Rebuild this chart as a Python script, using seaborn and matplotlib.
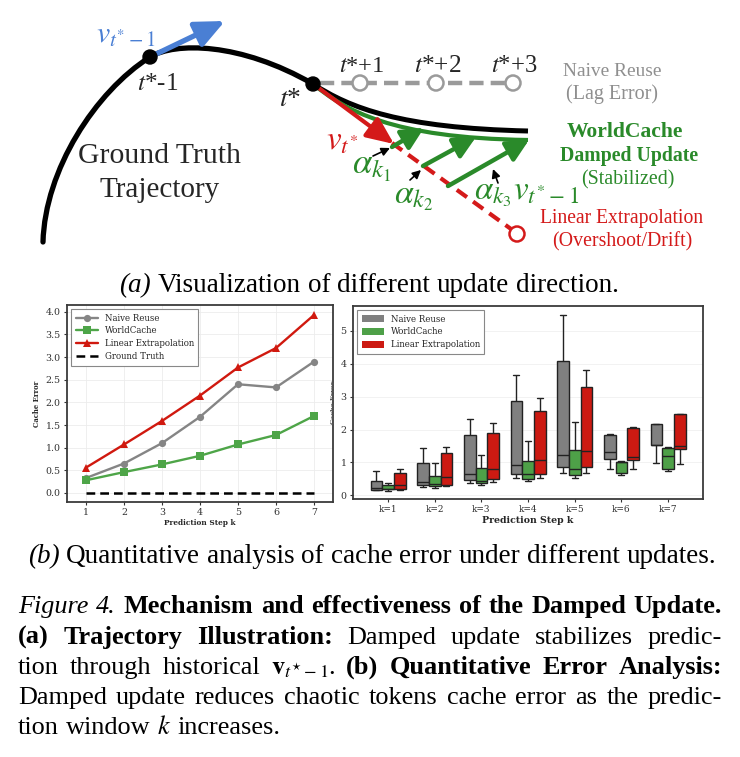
import numpy as np
import pandas as pd
import matplotlib
matplotlib.use('Agg')
import matplotlib.pyplot as plt
import seaborn as sns
from matplotlib.patches import FancyArrowPatch, Circle, PathPatch, Patch
from matplotlib.path import Path

sns.set_theme(style='whitegrid')
plt.rcParams['font.family'] = ['DejaVu Serif']
plt.rcParams['mathtext.fontset'] = 'stix'

# ---------------- data ----------------
steps = [1, 2, 3, 4, 5, 6, 7]
naive_err = [0.33, 0.65, 1.10, 1.68, 2.40, 2.33, 2.90]
worldcache_err = [0.28, 0.46, 0.63, 0.82, 1.07, 1.28, 1.70]
linear_err = [0.56, 1.07, 1.59, 2.15, 2.77, 3.20, 3.93]
ground_truth = [0, 0, 0, 0, 0, 0, 0]

methods = ['Naive Reuse', 'WorldCache', 'Linear Extrapolation']
k_labels = ['k=1', 'k=2', 'k=3', 'k=4', 'k=5', 'k=6', 'k=7']
# per k: [min, q1, median, q3, max]
naive_box = [[0.15, 0.17, 0.21, 0.45, 0.75], [0.25, 0.31, 0.41, 0.98, 1.43],
             [0.38, 0.47, 0.64, 1.83, 2.31], [0.52, 0.65, 0.93, 2.88, 3.66],
             [0.67, 0.87, 1.24, 4.07, 5.49], [0.81, 1.10, 1.31, 1.84, 1.85],
             [0.97, 1.52, 1.53, 2.18, 2.18]]
worldcache_box = [[0.14, 0.18, 0.20, 0.33, 0.37], [0.23, 0.27, 0.35, 0.58, 0.97],
                  [0.33, 0.39, 0.45, 0.82, 1.24], [0.44, 0.49, 0.64, 1.05, 1.65],
                  [0.52, 0.61, 0.80, 1.38, 2.22], [0.61, 0.67, 1.00, 1.02, 1.03],
                  [0.74, 0.80, 1.19, 1.45, 1.46]]
linear_box = [[0.15, 0.18, 0.30, 0.67, 0.79], [0.28, 0.32, 0.56, 1.28, 1.48],
              [0.42, 0.49, 0.81, 1.90, 2.19], [0.54, 0.65, 1.08, 2.55, 2.95],
              [0.67, 0.85, 1.34, 3.28, 3.80], [0.80, 1.07, 1.16, 2.06, 2.07],
              [0.95, 1.40, 1.50, 2.46, 2.46]]

# ---------------- colours ----------------
GRAY = '#858585'
GREEN = '#4ea548'
RED = '#d0190f'
BOX_COLORS = {'Naive Reuse': '#808080', 'WorldCache': '#4ea048', 'Linear Extrapolation': '#cc1a12'}
D_BLUE = '#4a7fd4'
D_RED = '#d41a1a'
D_GREEN = '#2a8a2a'
D_GRAY = '#8f8f8f'
SERIF = 'Liberation Serif'

# ---------------- illustration geometry (pixel coords) ----------------
gt_curve = [(43, 242), (45, 170), (95, 92), (150, 57),
            (175, 42), (240, 42), (313, 84)]
gt_future = [(313, 84), (350, 108), (400, 128), (528, 131)]
wc_curve = [(313, 84), (345, 110), (390, 138), (528, 140)]
p_prev, p_star = (150, 57), (313, 84)
naive_pts = [(360, 83), (436, 83), (513, 83)]

fig = plt.figure(figsize=(7.4, 7.57), dpi=100)
fig.patch.set_facecolor('white')
renderer = fig.canvas.get_renderer()

ov = fig.add_axes([0, 0, 1, 1], zorder=-1)
ov.set_xlim(0, 740)
ov.set_ylim(757, 0)
ov.axis('off')


def text_width(t):
    return t.get_window_extent(renderer=renderer).width


def fit_text(ax, x, y, s, width, ha='center', va='center', **kw):
    t = ax.text(x, y, s, fontsize=10, ha=ha, va=va, **kw)
    t.set_fontsize(10 * width / text_width(t))
    return t


def fit_artist(t, length, vertical=False):
    fs = t.get_fontsize()
    bb = t.get_window_extent(renderer=renderer)
    cur = bb.height if vertical else bb.width
    t.set_fontsize(fs * length / cur)


# ----- illustration -----
codes = [Path.MOVETO] + [Path.CURVE4] * 6
ov.add_patch(PathPatch(Path(gt_curve, codes), fill=False, ec='black', lw=3.8, capstyle='round'))
ov.plot([320, 513], [83, 83], color='#9a9a9a', lw=3.2, dashes=(3.2, 1.6), solid_capstyle='butt')
c4 = [Path.MOVETO] + [Path.CURVE4] * 3
ov.add_patch(PathPatch(Path(gt_future, c4), fill=False, ec='black', lw=3.6))
ov.add_patch(PathPatch(Path(wc_curve, c4), fill=False, ec=D_GREEN, lw=3.0))
for (x, y) in naive_pts:
    ov.add_patch(Circle((x, y), 7.5, fc='white', ec='#9a9a9a', lw=1.8, zorder=5))

ov.plot([392, 511], [143, 229], color=D_RED, lw=3.0, dashes=(3.0, 1.8))
ov.add_patch(Circle((517, 234), 7.5, fc='white', ec=D_RED, lw=1.8, zorder=5))
ov.add_patch(FancyArrowPatch((316, 86), (394, 144), arrowstyle='-|>,head_length=0.75,head_width=0.33',
                             mutation_scale=22, color=D_RED, lw=3.0, shrinkA=0, shrinkB=0, zorder=4))
ov.add_patch(FancyArrowPatch((150, 57), (225, 21), arrowstyle='-|>,head_length=0.8,head_width=0.36',
                             mutation_scale=22, color=D_BLUE, lw=3.8, shrinkA=0, shrinkB=0, zorder=4))
for a, b in [((392, 147), (424, 128)), ((423, 166), (476, 137)), ((448, 186), (529, 140))]:
    ov.add_patch(FancyArrowPatch(a, b, arrowstyle='-|>,head_length=0.6,head_width=0.3',
                                 mutation_scale=22, color=D_GREEN, lw=3.2, shrinkA=0, shrinkB=0, zorder=4))
for a, b in [((373, 156), (390, 148)), ((410, 180), (421, 170)), ((498, 183), (493, 169))]:
    ov.add_patch(FancyArrowPatch(a, b, arrowstyle='-|>,head_length=0.5,head_width=0.25',
                                 mutation_scale=10, color='black', lw=1.2, shrinkA=0, shrinkB=0, zorder=4))
for (x, y) in [p_prev, p_star]:
    ov.add_patch(Circle((x, y), 7, fc='black', ec='black', zorder=6))

fit_text(ov, 159, 156, 'Ground Truth', 162, family=SERIF)
fit_text(ov, 160, 190, 'Trajectory', 120, family=SERIF)
fit_text(ov, 126, 35, r'$v_{t^{*}-1}$', 62, color=D_BLUE)
fit_text(ov, 158, 84, r'$t$*-1', 43, family=SERIF)
fit_text(ov, 290, 100, r'$t$*', 24, family=SERIF)
fit_text(ov, 362, 66, r'$t$*+1', 47, family=SERIF)
fit_text(ov, 438, 66, r'$t$*+2', 49, family=SERIF)
fit_text(ov, 514, 66, r'$t$*+3', 48, family=SERIF)
fit_text(ov, 612, 71, 'Naive Reuse', 99, family=SERIF, color=D_GRAY)
fit_text(ov, 612, 94, '(Lag Error)', 92, family=SERIF, color=D_GRAY)
fit_text(ov, 342, 141, r'$v_{t^{*}}$', 35, color=D_RED)
fit_text(ov, 372, 167, r'$\alpha_{k_1}$', 42, color=D_GREEN)
fit_text(ov, 414, 197, r'$\alpha_{k_2}$', 42, color=D_GREEN)
fit_text(ov, 527, 193, r'$\alpha_{k_3}v_{t^{*}-1}$', 108, color=D_GREEN)
fit_text(ov, 625, 132, 'WorldCache', 117, family=SERIF, fontweight='bold', color=D_GREEN)
fit_text(ov, 629, 156, 'Damped Update', 138, family=SERIF, fontweight='bold', color=D_GREEN)
fit_text(ov, 628, 180, '(Stabilized)', 93, family=SERIF, color=D_GREEN)
fit_text(ov, 622, 218, 'Linear Extrapolation', 163, family=SERIF, color=D_RED)
fit_text(ov, 622, 242, '(Overshoot/Drift)', 140, family=SERIF, color=D_RED)

# ----- captions -----
STYLES = {'n': dict(family=SERIF), 'b': dict(family=SERIF, fontweight='bold'),
          'i': dict(family=SERIF, fontstyle='italic'), 'm': dict(family=SERIF)}


def make_words(segs):
    words = [[]]
    for s, st in segs:
        if st == 'm':
            words[-1].append((s, st))
            continue
        parts = s.split(' ')
        for i, p in enumerate(parts):
            if i > 0:
                words.append([])
            if p:
                words[-1].append((p, st))
    return [w for w in words if w]


def measure(s, st, fs):
    t = ov.text(0, 0, s, fontsize=fs, **STYLES[st])
    w = text_width(t)
    t.remove()
    return w


def natural_width(segs, fs):
    words = make_words(segs)
    tot = sum(measure(s, st, fs) for w in words for s, st in w)
    sp = measure('a a', 'n', fs) - measure('aa', 'n', fs)
    return tot + sp * (len(words) - 1)


def draw_line(segs, x0, x1, y, fs, justify=True):
    words = make_words(segs)
    widths = [[measure(s, st, fs) for s, st in w] for w in words]
    total = sum(sum(ws) for ws in widths)
    if justify and len(words) > 1:
        gap = (x1 - x0 - total) / (len(words) - 1)
    else:
        gap = measure('a a', 'n', fs) - measure('aa', 'n', fs)
    x = x0
    for w, ws in zip(words, widths):
        for (s, st), wd in zip(w, ws):
            ov.text(x, y, s, fontsize=fs, va='baseline', ha='left', color='black', **STYLES[st])
            x += wd
        x += gap


cap_a = [('(a)', 'i'), (' Visualization of different update direction.', 'n')]
cap_b = [('(b)', 'i'), (' Quantitative analysis of cache error under different updates.', 'n')]
fs_sub = 10 * 690 / natural_width(cap_b, 10)
wa = natural_width(cap_a, fs_sub)
draw_line(cap_a, 369 - wa / 2, 369 + wa / 2, 292, fs_sub, justify=False)
wb = natural_width(cap_b, fs_sub)
draw_line(cap_b, 372 - wb / 2, 372 + wb / 2, 563, fs_sub, justify=False)

cap_lines = [
    [('Figure 4.', 'i'), (' Mechanism and effectiveness of the Damped Update.', 'b')],
    [('(a) Trajectory Illustration:', 'b'), (' Damped update stabilizes predic-', 'n')],
    [('tion through historical ', 'n'), (r'$\mathbf{v}_{t^{\star}-1}$', 'm'), ('. ', 'n'),
     ('(b) Quantitative Error Analysis:', 'b')],
    [('Damped update reduces chaotic tokens cache error as the predic-', 'n')],
    [('tion window ', 'n'), (r'$k$', 'm'), (' increases.', 'n')],
]
fs_cap = 10 * 698 / natural_width(cap_lines[0], 10)
baselines = [613, 644, 674, 704, 734]
for i, (segs, yb) in enumerate(zip(cap_lines, baselines)):
    draw_line(segs, 18, 722, yb, fs_cap, justify=(i < len(cap_lines) - 1))

# ---------------- left: line plot ----------------
ax1 = fig.add_axes([67 / 740, 1 - 502 / 757, 266 / 740, 197 / 757])
sns.lineplot(x=steps, y=naive_err, ax=ax1, color=GRAY, marker='o', markersize=5.2,
             markeredgewidth=0, linewidth=1.7, label='Naive Reuse')
sns.lineplot(x=steps, y=worldcache_err, ax=ax1, color=GREEN, marker='s', markersize=5.2,
             markeredgewidth=0, linewidth=1.7, label='WorldCache')
sns.lineplot(x=steps, y=linear_err, ax=ax1, color=RED, marker='^', markersize=5.5,
             markeredgewidth=0, linewidth=1.7, label='Linear Extrapolation')
sns.lineplot(x=steps, y=ground_truth, ax=ax1, color='black', linestyle='--',
             linewidth=1.8, label='Ground Truth')
ax1.lines[-1].set_dashes((3.5, 2))
ax1.set_xlim(0.5, 7.5)
ax1.set_ylim(-0.2, 4.15)
ax1.set_xticks(steps)
ax1.set_yticks(np.arange(0, 4.01, 0.5))
ax1.set_yticklabels([f'{v:.1f}' for v in np.arange(0, 4.01, 0.5)])
leg1 = ax1.legend(loc='upper left', fontsize=6.2, frameon=True, fancybox=False, edgecolor='#888888',
                  framealpha=1, borderpad=0.5, handlelength=2.6, labelspacing=0.45,
                  borderaxespad=0.5)
leg1.get_frame().set_linewidth(0.8)
xl = ax1.set_xlabel('Prediction Step k', fontweight='bold', fontsize=5, labelpad=1)
yl = ax1.set_ylabel('Cache Error', fontweight='bold', fontsize=5, labelpad=3)
fit_artist(xl, 73)
fit_artist(yl, 47, vertical=True)

# ---------------- right: box plot ----------------
rows = []
for m, stats in zip(methods, [naive_box, worldcache_box, linear_box]):
    for k, vals in zip(k_labels, stats):
        for v in vals:
            rows.append((k, m, v))
box_df = pd.DataFrame(rows, columns=['k', 'method', 'value'])

ax2 = fig.add_axes([353 / 740, 1 - 499 / 757, 350 / 740, 193 / 757])
sns.boxplot(data=box_df, x='k', y='value', hue='method', order=k_labels, hue_order=methods,
            palette=BOX_COLORS, width=0.75, gap=0, whis=(0, 100), fliersize=0,
            linewidth=1.0, linecolor='#222222', saturation=1, ax=ax2, legend=False)
ax2.set_xlim(-0.75, 6.75)
ax2.set_ylim(-0.11, 5.75)
ax2.set_yticks([0, 1, 2, 3, 4, 5])
handles = [Patch(facecolor=BOX_COLORS[m], edgecolor='none', label=m) for m in methods]
leg2 = ax2.legend(handles=handles, loc='upper left', fontsize=6.2, frameon=True, fancybox=False,
                  edgecolor='#888888', framealpha=1, borderpad=0.5, handlelength=2.6,
                  handleheight=0.9, labelspacing=0.45, borderaxespad=0.5)
leg2.get_frame().set_linewidth(0.8)
xl2 = ax2.set_xlabel('Prediction Step k', fontweight='bold', fontsize=6, labelpad=1)
fit_artist(xl2, 93)
ax2.set_ylabel('Cache Error', fontweight='bold', fontsize=4.6, color='#555555', labelpad=3)

for ax in (ax1, ax2):
    for sp in ax.spines.values():
        sp.set_visible(True)
        sp.set_color('#3a3a3a')
        sp.set_linewidth(1.3)
    ax.set_facecolor('white')
    ax.tick_params(labelsize=6.8, colors='#333333', length=2.5, width=0.8, pad=2,
                   bottom=True, left=True, direction='out')
    for lab in ax.get_xticklabels() + ax.get_yticklabels():
        lab.set_color('#333333')
ax1.grid(True, color='#ececec', lw=0.6)
ax2.grid(True, axis='y', color='#f0f0f0', lw=0.6)
ax2.grid(False, axis='x')
ax2.tick_params(axis='x', labelsize=6.5)

fig.savefig('out.png', dpi=100, facecolor='white')
